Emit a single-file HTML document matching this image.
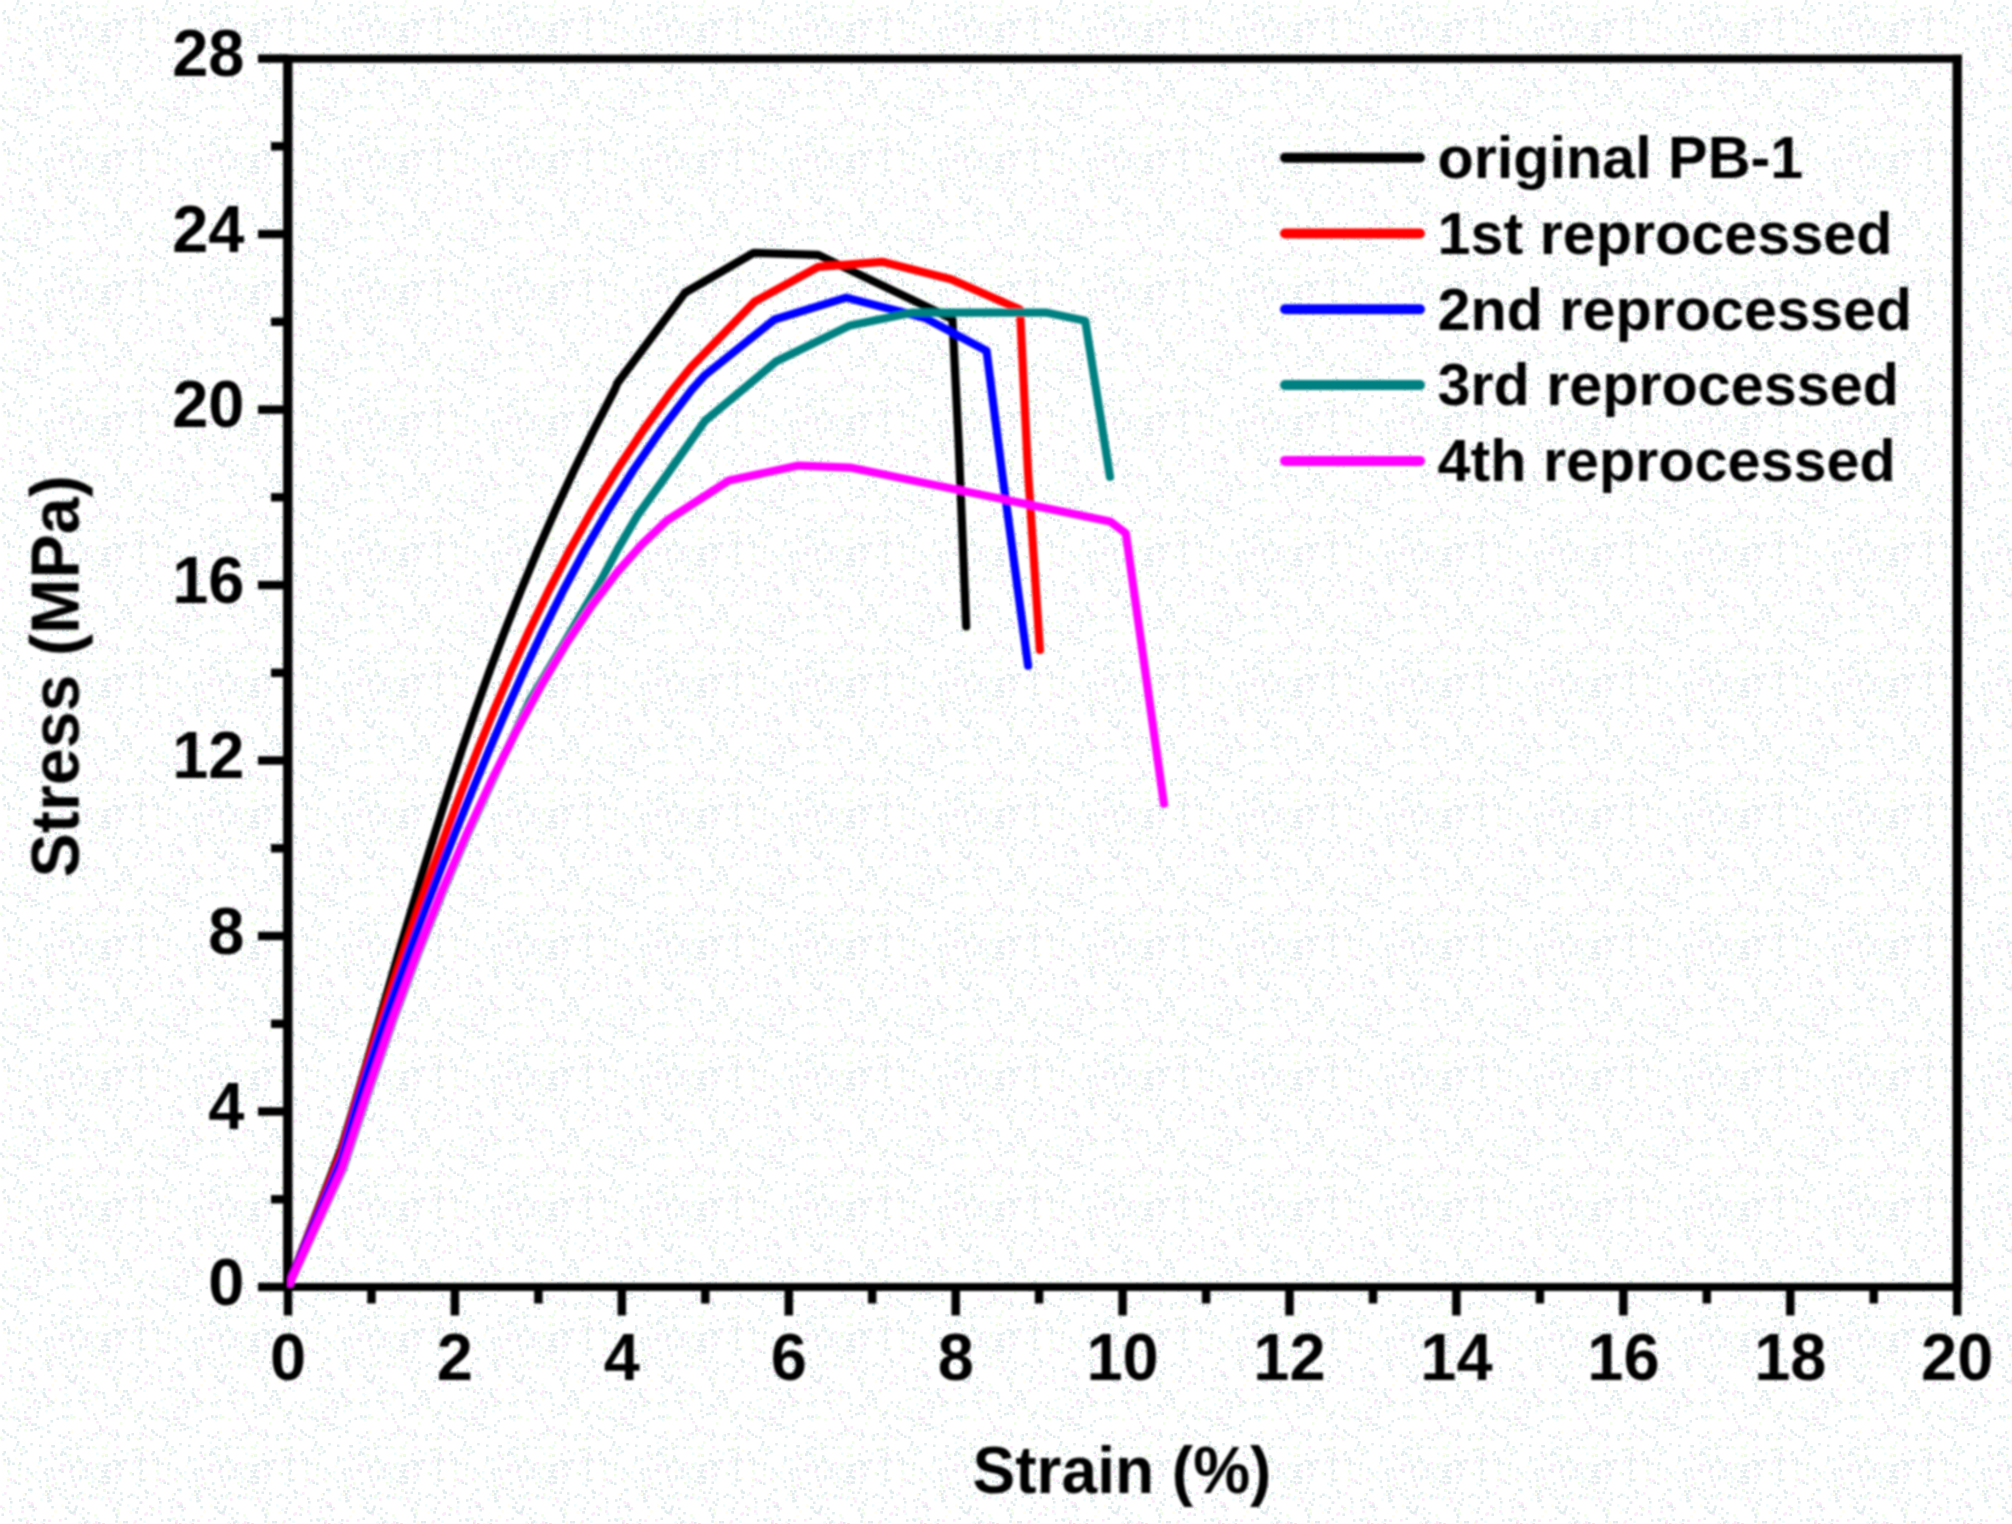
<!DOCTYPE html>
<html lang="en">
<head>
<meta charset="utf-8">
<title>Stress-strain curves of reprocessed PB-1</title>
<style>
html,body{margin:0;padding:0;background:#ffffff;}
body{width:2012px;height:1524px;overflow:hidden;}
svg{display:block;}
text{font-family:"Liberation Sans",Arial,Helvetica,sans-serif;font-weight:bold;fill:#000;}
.tick{font-size:65px;}
.leg{font-size:59.3px;}
.lab{font-size:65.5px;}
</style>
</head>
<body>
<svg width="2012" height="1524" viewBox="0 0 2012 1524">
<rect x="0" y="0" width="2012" height="1524" fill="#ffffff"/>

<defs><pattern id="speckle" width="149" height="131" patternUnits="userSpaceOnUse"><rect x="115.50" y="119.25" width="2.5" height="2.5" fill="#fde8f9"/><rect x="48.00" y="121.50" width="2.5" height="2.5" fill="#f0fde6"/><rect x="47.00" y="114.25" width="2.5" height="2.5" fill="#dfebec"/><rect x="23.50" y="10.50" width="2.5" height="2.5" fill="#eefbfb"/><rect x="115.50" y="40.50" width="2.5" height="2.5" fill="#dfebec"/><rect x="135.00" y="15.00" width="2.5" height="2.5" fill="#dfebec"/><rect x="61.50" y="7.25" width="2.5" height="2.5" fill="#eefbfb"/><rect x="112.50" y="50.50" width="2.5" height="2.5" fill="#dfebec"/><rect x="75.25" y="1.50" width="2.5" height="2.5" fill="#dfebec"/><rect x="117.50" y="71.25" width="2.5" height="2.5" fill="#f0fde6"/><rect x="21.50" y="65.25" width="2.5" height="2.5" fill="#dfebec"/><rect x="131.25" y="7.00" width="2.5" height="2.5" fill="#f0fde6"/><rect x="27.25" y="27.25" width="2.5" height="2.5" fill="#eefbfb"/><rect x="17.00" y="0.00" width="2.5" height="2.5" fill="#dfebec"/><rect x="13.25" y="96.50" width="2.5" height="2.5" fill="#eefbfb"/><rect x="107.00" y="50.50" width="2.5" height="2.5" fill="#dfebec"/><rect x="86.00" y="79.25" width="2.5" height="2.5" fill="#dfebec"/><rect x="104.00" y="34.00" width="2.5" height="2.5" fill="#dfebec"/><rect x="2.00" y="119.25" width="2.5" height="2.5" fill="#dfebec"/><rect x="143.00" y="114.50" width="2.5" height="2.5" fill="#dfebec"/><rect x="33.25" y="98.00" width="2.5" height="2.5" fill="#eefbfb"/><rect x="107.00" y="0.25" width="2.5" height="2.5" fill="#f0fde6"/><rect x="77.00" y="53.00" width="2.5" height="2.5" fill="#eefbfb"/><rect x="25.00" y="37.00" width="2.5" height="2.5" fill="#fde8f9"/><rect x="66.00" y="84.25" width="2.5" height="2.5" fill="#eefbfb"/><rect x="18.00" y="23.00" width="2.5" height="2.5" fill="#f0fde6"/><rect x="62.00" y="94.25" width="2.5" height="2.5" fill="#f0fde6"/><rect x="116.00" y="123.50" width="2.5" height="2.5" fill="#dfebec"/><rect x="98.00" y="39.25" width="2.5" height="2.5" fill="#dfebec"/><rect x="63.50" y="48.00" width="2.5" height="2.5" fill="#fffdee"/><rect x="141.00" y="99.25" width="2.5" height="2.5" fill="#f0fde6"/><rect x="20.25" y="12.00" width="2.5" height="2.5" fill="#dfebec"/><rect x="9.50" y="65.00" width="2.5" height="2.5" fill="#eefbfb"/><rect x="65.25" y="125.25" width="2.5" height="2.5" fill="#fde8f9"/><rect x="44.50" y="17.00" width="2.5" height="2.5" fill="#dfebec"/><rect x="122.50" y="18.25" width="2.5" height="2.5" fill="#dfebec"/><rect x="52.50" y="4.00" width="2.5" height="2.5" fill="#dfebec"/><rect x="105.25" y="63.00" width="2.5" height="2.5" fill="#dfebec"/><rect x="45.25" y="94.50" width="2.5" height="2.5" fill="#f0fde6"/><rect x="33.00" y="92.00" width="2.5" height="2.5" fill="#fde8f9"/><rect x="84.50" y="35.50" width="2.5" height="2.5" fill="#dfebec"/><rect x="4.25" y="91.50" width="2.5" height="2.5" fill="#dfebec"/><rect x="8.00" y="19.25" width="2.5" height="2.5" fill="#dfebec"/><rect x="79.25" y="34.00" width="2.5" height="2.5" fill="#dfebec"/><rect x="115.50" y="94.50" width="2.5" height="2.5" fill="#dfebec"/><rect x="33.25" y="90.00" width="2.5" height="2.5" fill="#fde8f9"/><rect x="19.25" y="7.25" width="2.5" height="2.5" fill="#f0fde6"/><rect x="3.50" y="97.25" width="2.5" height="2.5" fill="#f0fde6"/><rect x="3.50" y="18.00" width="2.5" height="2.5" fill="#dfebec"/><rect x="29.25" y="106.50" width="2.5" height="2.5" fill="#eefbfb"/><rect x="99.50" y="117.25" width="2.5" height="2.5" fill="#fde8f9"/><rect x="138.00" y="7.25" width="2.5" height="2.5" fill="#f0fde6"/><rect x="22.25" y="5.00" width="2.5" height="2.5" fill="#dfebec"/><rect x="127.50" y="124.25" width="2.5" height="2.5" fill="#dfebec"/><rect x="94.25" y="36.50" width="2.5" height="2.5" fill="#f0fde6"/><rect x="51.50" y="43.25" width="2.5" height="2.5" fill="#fde8f9"/><rect x="127.00" y="83.25" width="2.5" height="2.5" fill="#dfebec"/><rect x="50.50" y="110.00" width="2.5" height="2.5" fill="#dfebec"/><rect x="98.00" y="81.00" width="2.5" height="2.5" fill="#dfebec"/><rect x="34.25" y="89.00" width="2.5" height="2.5" fill="#dfebec"/><rect x="70.00" y="28.25" width="2.5" height="2.5" fill="#fde8f9"/><rect x="70.00" y="105.25" width="2.5" height="2.5" fill="#fffdee"/><rect x="133.25" y="80.50" width="2.5" height="2.5" fill="#f0fde6"/><rect x="115.25" y="19.00" width="2.5" height="2.5" fill="#dfebec"/><rect x="10.50" y="71.50" width="2.5" height="2.5" fill="#eefbfb"/><rect x="79.50" y="4.50" width="2.5" height="2.5" fill="#dfebec"/><rect x="103.25" y="48.00" width="2.5" height="2.5" fill="#dfebec"/><rect x="60.00" y="12.50" width="2.5" height="2.5" fill="#dfebec"/><rect x="114.00" y="94.00" width="2.5" height="2.5" fill="#dfebec"/><rect x="51.25" y="65.00" width="2.5" height="2.5" fill="#dfebec"/><rect x="120.50" y="9.00" width="2.5" height="2.5" fill="#dfebec"/><rect x="69.25" y="128.50" width="2.5" height="2.5" fill="#dfebec"/><rect x="100.50" y="57.00" width="2.5" height="2.5" fill="#eefbfb"/><rect x="99.00" y="115.25" width="2.5" height="2.5" fill="#dfebec"/><rect x="1.25" y="128.25" width="2.5" height="2.5" fill="#fde8f9"/><rect x="83.50" y="52.00" width="2.5" height="2.5" fill="#fffdee"/><rect x="31.00" y="62.25" width="2.5" height="2.5" fill="#dfebec"/><rect x="79.50" y="82.25" width="2.5" height="2.5" fill="#dfebec"/><rect x="89.50" y="21.00" width="2.5" height="2.5" fill="#fde8f9"/><rect x="87.50" y="107.25" width="2.5" height="2.5" fill="#fde8f9"/><rect x="7.00" y="16.25" width="2.5" height="2.5" fill="#dfebec"/><rect x="44.50" y="85.50" width="2.5" height="2.5" fill="#dfebec"/><rect x="120.00" y="112.25" width="2.5" height="2.5" fill="#f0fde6"/><rect x="22.00" y="112.50" width="2.5" height="2.5" fill="#f0fde6"/><rect x="74.50" y="42.50" width="2.5" height="2.5" fill="#fde8f9"/><rect x="143.25" y="79.50" width="2.5" height="2.5" fill="#eefbfb"/><rect x="53.25" y="36.50" width="2.5" height="2.5" fill="#fde8f9"/><rect x="69.50" y="127.00" width="2.5" height="2.5" fill="#eefbfb"/><rect x="137.00" y="128.00" width="2.5" height="2.5" fill="#f0fde6"/><rect x="96.00" y="11.50" width="2.5" height="2.5" fill="#eefbfb"/><rect x="139.50" y="31.25" width="2.5" height="2.5" fill="#dfebec"/><rect x="42.00" y="117.25" width="2.5" height="2.5" fill="#eefbfb"/><rect x="68.00" y="121.25" width="2.5" height="2.5" fill="#dfebec"/><rect x="86.25" y="121.50" width="2.5" height="2.5" fill="#eefbfb"/><rect x="27.00" y="107.50" width="2.5" height="2.5" fill="#dfebec"/><rect x="66.00" y="5.00" width="2.5" height="2.5" fill="#dfebec"/><rect x="39.00" y="3.50" width="2.5" height="2.5" fill="#dfebec"/><rect x="82.50" y="90.00" width="2.5" height="2.5" fill="#f0fde6"/><rect x="127.00" y="127.50" width="2.5" height="2.5" fill="#f0fde6"/><rect x="31.50" y="64.50" width="2.5" height="2.5" fill="#dfebec"/><rect x="135.25" y="5.25" width="2.5" height="2.5" fill="#fffdee"/><rect x="105.50" y="40.50" width="2.5" height="2.5" fill="#dfebec"/><rect x="136.50" y="55.50" width="2.5" height="2.5" fill="#dfebec"/><rect x="138.50" y="34.00" width="2.5" height="2.5" fill="#fffdee"/><rect x="88.00" y="80.50" width="2.5" height="2.5" fill="#eefbfb"/><rect x="49.00" y="49.00" width="2.5" height="2.5" fill="#dfebec"/><rect x="61.00" y="22.25" width="2.5" height="2.5" fill="#eefbfb"/><rect x="24.25" y="107.50" width="2.5" height="2.5" fill="#dfebec"/><rect x="51.25" y="4.00" width="2.5" height="2.5" fill="#dfebec"/><rect x="145.50" y="91.25" width="2.5" height="2.5" fill="#dfebec"/><rect x="129.50" y="87.50" width="2.5" height="2.5" fill="#dfebec"/><rect x="18.25" y="27.00" width="2.5" height="2.5" fill="#dfebec"/><rect x="141.50" y="123.00" width="2.5" height="2.5" fill="#dfebec"/><rect x="47.00" y="52.00" width="2.5" height="2.5" fill="#dfebec"/><rect x="72.50" y="24.50" width="2.5" height="2.5" fill="#dfebec"/><rect x="34.50" y="118.00" width="2.5" height="2.5" fill="#dfebec"/><rect x="83.25" y="119.25" width="2.5" height="2.5" fill="#fde8f9"/><rect x="90.25" y="53.50" width="2.5" height="2.5" fill="#eefbfb"/><rect x="3.50" y="10.00" width="2.5" height="2.5" fill="#dfebec"/><rect x="104.25" y="92.50" width="2.5" height="2.5" fill="#eefbfb"/><rect x="103.00" y="42.00" width="2.5" height="2.5" fill="#fde8f9"/><rect x="3.25" y="21.50" width="2.5" height="2.5" fill="#fffdee"/><rect x="103.50" y="48.50" width="2.5" height="2.5" fill="#f0fde6"/><rect x="87.25" y="71.00" width="2.5" height="2.5" fill="#dfebec"/><rect x="103.00" y="84.50" width="2.5" height="2.5" fill="#eefbfb"/><rect x="110.00" y="103.00" width="2.5" height="2.5" fill="#dfebec"/><rect x="18.25" y="77.25" width="2.5" height="2.5" fill="#dfebec"/><rect x="2.25" y="12.00" width="2.5" height="2.5" fill="#dfebec"/><rect x="76.25" y="55.50" width="2.5" height="2.5" fill="#eefbfb"/><rect x="145.00" y="19.25" width="2.5" height="2.5" fill="#fde8f9"/><rect x="127.50" y="54.50" width="2.5" height="2.5" fill="#dfebec"/><rect x="101.50" y="5.00" width="2.5" height="2.5" fill="#f0fde6"/><rect x="27.50" y="60.25" width="2.5" height="2.5" fill="#fde8f9"/><rect x="102.50" y="12.00" width="2.5" height="2.5" fill="#fffdee"/><rect x="96.00" y="25.25" width="2.5" height="2.5" fill="#dfebec"/><rect x="70.25" y="106.50" width="2.5" height="2.5" fill="#f0fde6"/><rect x="25.50" y="113.50" width="2.5" height="2.5" fill="#dfebec"/><rect x="140.50" y="11.25" width="2.5" height="2.5" fill="#dfebec"/><rect x="98.25" y="43.25" width="2.5" height="2.5" fill="#f0fde6"/><rect x="14.25" y="126.25" width="2.5" height="2.5" fill="#dfebec"/><rect x="134.25" y="79.25" width="2.5" height="2.5" fill="#fde8f9"/><rect x="73.25" y="69.50" width="2.5" height="2.5" fill="#dfebec"/><rect x="75.00" y="3.00" width="2.5" height="2.5" fill="#f0fde6"/><rect x="10.50" y="40.25" width="2.5" height="2.5" fill="#eefbfb"/><rect x="13.25" y="101.00" width="2.5" height="2.5" fill="#f0fde6"/><rect x="81.00" y="57.25" width="2.5" height="2.5" fill="#fde8f9"/><rect x="64.00" y="11.50" width="2.5" height="2.5" fill="#dfebec"/><rect x="119.00" y="62.50" width="2.5" height="2.5" fill="#dfebec"/><rect x="12.50" y="106.25" width="2.5" height="2.5" fill="#dfebec"/><rect x="52.00" y="91.50" width="2.5" height="2.5" fill="#dfebec"/><rect x="31.25" y="113.00" width="2.5" height="2.5" fill="#eefbfb"/><rect x="116.50" y="67.50" width="2.5" height="2.5" fill="#f0fde6"/><rect x="107.25" y="35.25" width="2.5" height="2.5" fill="#dfebec"/><rect x="61.25" y="29.50" width="2.5" height="2.5" fill="#dfebec"/><rect x="129.50" y="91.25" width="2.5" height="2.5" fill="#dfebec"/><rect x="144.50" y="48.50" width="2.5" height="2.5" fill="#dfebec"/><rect x="61.00" y="63.50" width="2.5" height="2.5" fill="#fffdee"/><rect x="50.50" y="10.50" width="2.5" height="2.5" fill="#dfebec"/><rect x="2.25" y="66.25" width="2.5" height="2.5" fill="#dfebec"/><rect x="9.00" y="56.50" width="2.5" height="2.5" fill="#dfebec"/><rect x="18.00" y="41.50" width="2.5" height="2.5" fill="#dfebec"/><rect x="95.25" y="122.25" width="2.5" height="2.5" fill="#dfebec"/><rect x="86.25" y="126.50" width="2.5" height="2.5" fill="#dfebec"/><rect x="19.00" y="114.50" width="2.5" height="2.5" fill="#dfebec"/><rect x="113.25" y="66.25" width="2.5" height="2.5" fill="#dfebec"/><rect x="94.00" y="83.25" width="2.5" height="2.5" fill="#f0fde6"/><rect x="47.25" y="94.50" width="2.5" height="2.5" fill="#dfebec"/><rect x="118.25" y="20.50" width="2.5" height="2.5" fill="#dfebec"/><rect x="110.50" y="124.50" width="2.5" height="2.5" fill="#fde8f9"/><rect x="76.00" y="19.25" width="2.5" height="2.5" fill="#dfebec"/><rect x="20.50" y="77.25" width="2.5" height="2.5" fill="#eefbfb"/><rect x="72.00" y="56.25" width="2.5" height="2.5" fill="#eefbfb"/><rect x="93.00" y="82.50" width="2.5" height="2.5" fill="#fde8f9"/><rect x="145.50" y="71.25" width="2.5" height="2.5" fill="#fde8f9"/><rect x="78.25" y="81.00" width="2.5" height="2.5" fill="#eefbfb"/><rect x="132.00" y="21.25" width="2.5" height="2.5" fill="#eefbfb"/><rect x="6.25" y="101.50" width="2.5" height="2.5" fill="#eefbfb"/><rect x="49.50" y="94.25" width="2.5" height="2.5" fill="#f0fde6"/><rect x="39.50" y="45.00" width="2.5" height="2.5" fill="#dfebec"/><rect x="116.25" y="5.00" width="2.5" height="2.5" fill="#fde8f9"/><rect x="14.50" y="40.50" width="2.5" height="2.5" fill="#dfebec"/><rect x="5.50" y="108.00" width="2.5" height="2.5" fill="#f0fde6"/><rect x="139.25" y="21.25" width="2.5" height="2.5" fill="#dfebec"/><rect x="70.50" y="26.25" width="2.5" height="2.5" fill="#dfebec"/><rect x="6.50" y="36.00" width="2.5" height="2.5" fill="#fffdee"/><rect x="108.00" y="56.25" width="2.5" height="2.5" fill="#fde8f9"/><rect x="86.25" y="100.25" width="2.5" height="2.5" fill="#eefbfb"/><rect x="85.50" y="34.25" width="2.5" height="2.5" fill="#fde8f9"/><rect x="137.50" y="18.50" width="2.5" height="2.5" fill="#f0fde6"/><rect x="11.25" y="89.00" width="2.5" height="2.5" fill="#eefbfb"/><rect x="22.25" y="6.50" width="2.5" height="2.5" fill="#eefbfb"/><rect x="2.00" y="107.25" width="2.5" height="2.5" fill="#dfebec"/><rect x="62.50" y="41.50" width="2.5" height="2.5" fill="#eefbfb"/><rect x="42.25" y="52.25" width="2.5" height="2.5" fill="#eefbfb"/><rect x="135.25" y="70.00" width="2.5" height="2.5" fill="#fde8f9"/><rect x="78.50" y="29.25" width="2.5" height="2.5" fill="#fffdee"/><rect x="39.00" y="15.25" width="2.5" height="2.5" fill="#dfebec"/><rect x="123.00" y="80.00" width="2.5" height="2.5" fill="#dfebec"/><rect x="47.25" y="55.50" width="2.5" height="2.5" fill="#dfebec"/><rect x="120.50" y="57.25" width="2.5" height="2.5" fill="#dfebec"/><rect x="71.25" y="44.25" width="2.5" height="2.5" fill="#fffdee"/><rect x="140.50" y="122.25" width="2.5" height="2.5" fill="#fde8f9"/><rect x="103.25" y="23.25" width="2.5" height="2.5" fill="#dfebec"/><rect x="102.00" y="55.00" width="2.5" height="2.5" fill="#eefbfb"/><rect x="135.50" y="70.00" width="2.5" height="2.5" fill="#dfebec"/><rect x="2.25" y="95.25" width="2.5" height="2.5" fill="#dfebec"/><rect x="107.50" y="40.25" width="2.5" height="2.5" fill="#dfebec"/><rect x="82.00" y="66.50" width="2.5" height="2.5" fill="#dfebec"/><rect x="68.50" y="13.00" width="2.5" height="2.5" fill="#f0fde6"/><rect x="45.00" y="52.00" width="2.5" height="2.5" fill="#dfebec"/><rect x="21.25" y="69.50" width="2.5" height="2.5" fill="#fde8f9"/><rect x="24.25" y="119.00" width="2.5" height="2.5" fill="#f0fde6"/><rect x="139.50" y="77.00" width="2.5" height="2.5" fill="#dfebec"/><rect x="106.00" y="23.25" width="2.5" height="2.5" fill="#dfebec"/><rect x="9.50" y="105.50" width="2.5" height="2.5" fill="#fde8f9"/><rect x="40.25" y="80.25" width="2.5" height="2.5" fill="#eefbfb"/><rect x="19.50" y="78.25" width="2.5" height="2.5" fill="#dfebec"/><rect x="92.00" y="35.00" width="2.5" height="2.5" fill="#eefbfb"/><rect x="118.50" y="31.50" width="2.5" height="2.5" fill="#fde8f9"/><rect x="3.25" y="121.00" width="2.5" height="2.5" fill="#dfebec"/><rect x="144.00" y="117.00" width="2.5" height="2.5" fill="#dfebec"/><rect x="38.25" y="96.50" width="2.5" height="2.5" fill="#dfebec"/><rect x="86.25" y="22.25" width="2.5" height="2.5" fill="#dfebec"/><rect x="51.25" y="28.25" width="2.5" height="2.5" fill="#dfebec"/><rect x="70.50" y="120.50" width="2.5" height="2.5" fill="#fffdee"/><rect x="84.25" y="97.00" width="2.5" height="2.5" fill="#dfebec"/><rect x="36.50" y="24.00" width="2.5" height="2.5" fill="#fffdee"/><rect x="45.00" y="49.25" width="2.5" height="2.5" fill="#dfebec"/><rect x="118.50" y="23.00" width="2.5" height="2.5" fill="#dfebec"/><rect x="8.00" y="31.25" width="2.5" height="2.5" fill="#eefbfb"/><rect x="18.25" y="109.50" width="2.5" height="2.5" fill="#dfebec"/><rect x="52.00" y="98.25" width="2.5" height="2.5" fill="#eefbfb"/><rect x="105.50" y="3.50" width="2.5" height="2.5" fill="#eefbfb"/><rect x="81.00" y="4.25" width="2.5" height="2.5" fill="#eefbfb"/><rect x="48.25" y="78.50" width="2.5" height="2.5" fill="#fde8f9"/><rect x="27.50" y="96.00" width="2.5" height="2.5" fill="#fde8f9"/><rect x="85.25" y="26.50" width="2.5" height="2.5" fill="#dfebec"/><rect x="64.50" y="76.50" width="2.5" height="2.5" fill="#dfebec"/><rect x="90.50" y="128.50" width="2.5" height="2.5" fill="#dfebec"/><rect x="146.50" y="50.50" width="2.5" height="2.5" fill="#dfebec"/><rect x="145.00" y="50.00" width="2.5" height="2.5" fill="#dfebec"/><rect x="62.25" y="106.50" width="2.5" height="2.5" fill="#eefbfb"/><rect x="84.00" y="92.25" width="2.5" height="2.5" fill="#fde8f9"/><rect x="31.25" y="34.00" width="2.5" height="2.5" fill="#f0fde6"/><rect x="139.50" y="16.50" width="2.5" height="2.5" fill="#dfebec"/><rect x="43.50" y="85.50" width="2.5" height="2.5" fill="#dfebec"/><rect x="31.00" y="73.50" width="2.5" height="2.5" fill="#eefbfb"/><rect x="61.50" y="92.00" width="2.5" height="2.5" fill="#dfebec"/><rect x="140.00" y="116.00" width="2.5" height="2.5" fill="#eefbfb"/><rect x="46.50" y="35.25" width="2.5" height="2.5" fill="#eefbfb"/><rect x="4.00" y="51.25" width="2.5" height="2.5" fill="#fde8f9"/><rect x="8.00" y="98.00" width="2.5" height="2.5" fill="#f0fde6"/><rect x="103.00" y="86.50" width="2.5" height="2.5" fill="#dfebec"/><rect x="67.00" y="85.00" width="2.5" height="2.5" fill="#fffdee"/><rect x="9.50" y="37.25" width="2.5" height="2.5" fill="#fde8f9"/><rect x="26.25" y="88.25" width="2.5" height="2.5" fill="#f0fde6"/><rect x="144.25" y="72.25" width="2.5" height="2.5" fill="#fde8f9"/><rect x="104.25" y="30.50" width="2.5" height="2.5" fill="#dfebec"/><rect x="134.25" y="110.25" width="2.5" height="2.5" fill="#dfebec"/><rect x="82.00" y="75.50" width="2.5" height="2.5" fill="#f0fde6"/><rect x="110.50" y="96.50" width="2.5" height="2.5" fill="#eefbfb"/><rect x="78.50" y="17.00" width="2.5" height="2.5" fill="#dfebec"/><rect x="114.00" y="128.25" width="2.5" height="2.5" fill="#dfebec"/><rect x="121.50" y="26.50" width="2.5" height="2.5" fill="#dfebec"/><rect x="139.25" y="101.00" width="2.5" height="2.5" fill="#dfebec"/><rect x="94.50" y="107.50" width="2.5" height="2.5" fill="#dfebec"/><rect x="56.50" y="107.50" width="2.5" height="2.5" fill="#dfebec"/><rect x="18.00" y="33.00" width="2.5" height="2.5" fill="#f0fde6"/><rect x="116.00" y="75.00" width="2.5" height="2.5" fill="#dfebec"/><rect x="6.25" y="44.00" width="2.5" height="2.5" fill="#fde8f9"/><rect x="115.50" y="101.00" width="2.5" height="2.5" fill="#eefbfb"/><rect x="59.00" y="78.00" width="2.5" height="2.5" fill="#fde8f9"/><rect x="80.25" y="83.25" width="2.5" height="2.5" fill="#dfebec"/><rect x="120.00" y="51.25" width="2.5" height="2.5" fill="#dfebec"/><rect x="50.25" y="90.25" width="2.5" height="2.5" fill="#dfebec"/><rect x="44.50" y="51.50" width="2.5" height="2.5" fill="#fffdee"/><rect x="60.00" y="12.50" width="2.5" height="2.5" fill="#dfebec"/><rect x="78.50" y="80.25" width="2.5" height="2.5" fill="#eefbfb"/><rect x="34.25" y="113.25" width="2.5" height="2.5" fill="#dfebec"/><rect x="43.00" y="78.00" width="2.5" height="2.5" fill="#dfebec"/><rect x="68.00" y="60.50" width="2.5" height="2.5" fill="#dfebec"/><rect x="69.25" y="29.50" width="2.5" height="2.5" fill="#fde8f9"/><rect x="58.25" y="46.50" width="2.5" height="2.5" fill="#dfebec"/><rect x="70.00" y="23.25" width="2.5" height="2.5" fill="#dfebec"/><rect x="112.50" y="18.50" width="2.5" height="2.5" fill="#dfebec"/><rect x="1.50" y="72.50" width="2.5" height="2.5" fill="#dfebec"/><rect x="108.50" y="22.00" width="2.5" height="2.5" fill="#dfebec"/><rect x="48.00" y="45.25" width="2.5" height="2.5" fill="#f0fde6"/><rect x="7.00" y="38.00" width="2.5" height="2.5" fill="#f0fde6"/><rect x="118.50" y="98.00" width="2.5" height="2.5" fill="#fde8f9"/><rect x="15.00" y="16.50" width="2.5" height="2.5" fill="#fffdee"/><rect x="92.25" y="123.00" width="2.5" height="2.5" fill="#fde8f9"/><rect x="74.50" y="44.50" width="2.5" height="2.5" fill="#dfebec"/><rect x="28.50" y="111.00" width="2.5" height="2.5" fill="#fde8f9"/><rect x="140.25" y="60.25" width="2.5" height="2.5" fill="#fde8f9"/><rect x="139.00" y="127.25" width="2.5" height="2.5" fill="#dfebec"/><rect x="51.50" y="13.50" width="2.5" height="2.5" fill="#fde8f9"/><rect x="46.25" y="38.50" width="2.5" height="2.5" fill="#dfebec"/><rect x="127.25" y="128.25" width="2.5" height="2.5" fill="#dfebec"/><rect x="7.00" y="29.00" width="2.5" height="2.5" fill="#f0fde6"/><rect x="139.50" y="60.50" width="2.5" height="2.5" fill="#dfebec"/><rect x="13.25" y="108.00" width="2.5" height="2.5" fill="#eefbfb"/><rect x="134.25" y="127.00" width="2.5" height="2.5" fill="#fffdee"/><rect x="130.00" y="96.25" width="2.5" height="2.5" fill="#dfebec"/><rect x="40.25" y="116.00" width="2.5" height="2.5" fill="#eefbfb"/><rect x="105.25" y="93.50" width="2.5" height="2.5" fill="#dfebec"/><rect x="10.00" y="125.50" width="2.5" height="2.5" fill="#dfebec"/><rect x="37.50" y="116.50" width="2.5" height="2.5" fill="#dfebec"/><rect x="0.00" y="104.50" width="2.5" height="2.5" fill="#dfebec"/><rect x="23.25" y="76.25" width="2.5" height="2.5" fill="#eefbfb"/><rect x="19.00" y="58.25" width="2.5" height="2.5" fill="#dfebec"/><rect x="30.50" y="61.25" width="2.5" height="2.5" fill="#fde8f9"/><rect x="22.00" y="93.25" width="2.5" height="2.5" fill="#eefbfb"/><rect x="55.00" y="41.25" width="2.5" height="2.5" fill="#f0fde6"/><rect x="14.50" y="87.50" width="2.5" height="2.5" fill="#f0fde6"/><rect x="45.25" y="100.00" width="2.5" height="2.5" fill="#eefbfb"/><rect x="96.00" y="55.25" width="2.5" height="2.5" fill="#eefbfb"/><rect x="63.00" y="41.25" width="2.5" height="2.5" fill="#dfebec"/><rect x="102.00" y="119.25" width="2.5" height="2.5" fill="#fde8f9"/><rect x="114.25" y="46.25" width="2.5" height="2.5" fill="#dfebec"/><rect x="138.25" y="107.00" width="2.5" height="2.5" fill="#dfebec"/><rect x="70.25" y="70.50" width="2.5" height="2.5" fill="#dfebec"/><rect x="132.00" y="67.50" width="2.5" height="2.5" fill="#eefbfb"/><rect x="145.50" y="55.25" width="2.5" height="2.5" fill="#dfebec"/><rect x="92.00" y="39.50" width="2.5" height="2.5" fill="#eefbfb"/><rect x="35.00" y="30.00" width="2.5" height="2.5" fill="#eefbfb"/><rect x="98.25" y="21.25" width="2.5" height="2.5" fill="#eefbfb"/><rect x="65.50" y="14.25" width="2.5" height="2.5" fill="#eefbfb"/><rect x="61.25" y="10.00" width="2.5" height="2.5" fill="#dfebec"/><rect x="131.50" y="32.00" width="2.5" height="2.5" fill="#dfebec"/><rect x="79.25" y="108.25" width="2.5" height="2.5" fill="#f0fde6"/><rect x="34.50" y="66.25" width="2.5" height="2.5" fill="#fde8f9"/><rect x="96.00" y="52.25" width="2.5" height="2.5" fill="#f0fde6"/><rect x="115.25" y="34.25" width="2.5" height="2.5" fill="#fde8f9"/><rect x="91.00" y="26.25" width="2.5" height="2.5" fill="#eefbfb"/><rect x="88.50" y="55.00" width="2.5" height="2.5" fill="#dfebec"/><rect x="6.50" y="123.50" width="2.5" height="2.5" fill="#dfebec"/><rect x="76.50" y="17.00" width="2.5" height="2.5" fill="#f0fde6"/><rect x="90.50" y="31.25" width="2.5" height="2.5" fill="#dfebec"/><rect x="66.00" y="109.00" width="2.5" height="2.5" fill="#eefbfb"/><rect x="126.00" y="125.25" width="2.5" height="2.5" fill="#eefbfb"/><rect x="72.25" y="71.00" width="2.5" height="2.5" fill="#dfebec"/><rect x="103.00" y="121.00" width="2.5" height="2.5" fill="#eefbfb"/><rect x="61.50" y="23.50" width="2.5" height="2.5" fill="#eefbfb"/><rect x="108.00" y="122.50" width="2.5" height="2.5" fill="#dfebec"/><rect x="141.25" y="5.25" width="2.5" height="2.5" fill="#dfebec"/><rect x="93.00" y="103.25" width="2.5" height="2.5" fill="#dfebec"/><rect x="96.25" y="76.25" width="2.5" height="2.5" fill="#eefbfb"/><rect x="64.00" y="6.00" width="2.5" height="2.5" fill="#eefbfb"/><rect x="82.25" y="76.25" width="2.5" height="2.5" fill="#dfebec"/><rect x="120.25" y="87.25" width="2.5" height="2.5" fill="#dfebec"/><rect x="55.00" y="12.50" width="2.5" height="2.5" fill="#f0fde6"/><rect x="105.50" y="106.00" width="2.5" height="2.5" fill="#dfebec"/><rect x="17.25" y="115.25" width="2.5" height="2.5" fill="#eefbfb"/><rect x="9.00" y="69.25" width="2.5" height="2.5" fill="#fde8f9"/><rect x="92.25" y="5.00" width="2.5" height="2.5" fill="#f0fde6"/><rect x="49.25" y="58.25" width="2.5" height="2.5" fill="#dfebec"/><rect x="60.50" y="0.50" width="2.5" height="2.5" fill="#eefbfb"/><rect x="0.00" y="126.50" width="2.5" height="2.5" fill="#f0fde6"/><rect x="20.50" y="85.25" width="2.5" height="2.5" fill="#eefbfb"/><rect x="26.00" y="80.50" width="2.5" height="2.5" fill="#dfebec"/><rect x="101.50" y="40.00" width="2.5" height="2.5" fill="#dfebec"/><rect x="40.25" y="125.50" width="2.5" height="2.5" fill="#dfebec"/><rect x="94.25" y="73.25" width="2.5" height="2.5" fill="#f0fde6"/><rect x="127.00" y="63.25" width="2.5" height="2.5" fill="#eefbfb"/><rect x="45.50" y="32.00" width="2.5" height="2.5" fill="#dfebec"/><rect x="26.50" y="79.00" width="2.5" height="2.5" fill="#fde8f9"/><rect x="131.50" y="123.00" width="2.5" height="2.5" fill="#dfebec"/><rect x="105.25" y="13.25" width="2.5" height="2.5" fill="#dfebec"/><rect x="101.50" y="100.25" width="2.5" height="2.5" fill="#fffdee"/><rect x="64.25" y="83.00" width="2.5" height="2.5" fill="#eefbfb"/><rect x="52.50" y="33.50" width="2.5" height="2.5" fill="#eefbfb"/><rect x="32.50" y="68.00" width="2.5" height="2.5" fill="#dfebec"/><rect x="51.25" y="74.00" width="2.5" height="2.5" fill="#fffdee"/><rect x="47.00" y="120.50" width="2.5" height="2.5" fill="#dfebec"/><rect x="68.50" y="69.25" width="2.5" height="2.5" fill="#dfebec"/><rect x="101.25" y="35.00" width="2.5" height="2.5" fill="#dfebec"/><rect x="30.00" y="49.25" width="2.5" height="2.5" fill="#eefbfb"/><rect x="137.00" y="103.25" width="2.5" height="2.5" fill="#dfebec"/><rect x="138.25" y="43.25" width="2.5" height="2.5" fill="#dfebec"/><rect x="79.25" y="72.00" width="2.5" height="2.5" fill="#eefbfb"/><rect x="104.00" y="99.50" width="2.5" height="2.5" fill="#dfebec"/><rect x="139.25" y="37.25" width="2.5" height="2.5" fill="#dfebec"/><rect x="27.50" y="64.25" width="2.5" height="2.5" fill="#eefbfb"/><rect x="30.00" y="82.00" width="2.5" height="2.5" fill="#dfebec"/><rect x="144.50" y="36.25" width="2.5" height="2.5" fill="#fffdee"/><rect x="102.25" y="82.00" width="2.5" height="2.5" fill="#dfebec"/><rect x="123.00" y="93.50" width="2.5" height="2.5" fill="#dfebec"/><rect x="143.00" y="38.00" width="2.5" height="2.5" fill="#dfebec"/><rect x="79.50" y="20.00" width="2.5" height="2.5" fill="#dfebec"/><rect x="86.25" y="35.00" width="2.5" height="2.5" fill="#eefbfb"/><rect x="123.00" y="106.25" width="2.5" height="2.5" fill="#f0fde6"/><rect x="101.50" y="14.00" width="2.5" height="2.5" fill="#f0fde6"/><rect x="64.25" y="48.25" width="2.5" height="2.5" fill="#dfebec"/><rect x="113.50" y="12.00" width="2.5" height="2.5" fill="#dfebec"/><rect x="43.50" y="30.50" width="2.5" height="2.5" fill="#dfebec"/><rect x="69.25" y="6.50" width="2.5" height="2.5" fill="#dfebec"/><rect x="16.50" y="119.00" width="2.5" height="2.5" fill="#dfebec"/><rect x="16.25" y="2.50" width="2.5" height="2.5" fill="#dfebec"/><rect x="62.50" y="126.25" width="2.5" height="2.5" fill="#dfebec"/><rect x="136.50" y="25.25" width="2.5" height="2.5" fill="#eefbfb"/><rect x="104.25" y="6.00" width="2.5" height="2.5" fill="#f0fde6"/><rect x="36.00" y="82.25" width="2.5" height="2.5" fill="#eefbfb"/><rect x="129.50" y="70.25" width="2.5" height="2.5" fill="#fffdee"/><rect x="115.25" y="79.25" width="2.5" height="2.5" fill="#dfebec"/><rect x="82.50" y="24.25" width="2.5" height="2.5" fill="#eefbfb"/><rect x="54.50" y="46.00" width="2.5" height="2.5" fill="#dfebec"/><rect x="33.50" y="77.50" width="2.5" height="2.5" fill="#dfebec"/><rect x="45.25" y="27.00" width="2.5" height="2.5" fill="#dfebec"/><rect x="95.25" y="46.25" width="2.5" height="2.5" fill="#dfebec"/><rect x="2.25" y="128.00" width="2.5" height="2.5" fill="#eefbfb"/><rect x="24.25" y="52.00" width="2.5" height="2.5" fill="#dfebec"/><rect x="82.00" y="27.50" width="2.5" height="2.5" fill="#eefbfb"/><rect x="110.25" y="56.25" width="2.5" height="2.5" fill="#eefbfb"/><rect x="45.25" y="17.50" width="2.5" height="2.5" fill="#eefbfb"/><rect x="82.00" y="91.50" width="2.5" height="2.5" fill="#dfebec"/><rect x="37.50" y="96.50" width="2.5" height="2.5" fill="#dfebec"/><rect x="54.50" y="88.25" width="2.5" height="2.5" fill="#fffdee"/><rect x="108.50" y="29.00" width="2.5" height="2.5" fill="#fde8f9"/><rect x="111.50" y="119.25" width="2.5" height="2.5" fill="#eefbfb"/><rect x="128.00" y="96.50" width="2.5" height="2.5" fill="#f0fde6"/><rect x="146.00" y="8.50" width="2.5" height="2.5" fill="#fffdee"/><rect x="115.25" y="72.50" width="2.5" height="2.5" fill="#dfebec"/><rect x="13.25" y="38.50" width="2.5" height="2.5" fill="#fde8f9"/><rect x="84.25" y="80.00" width="2.5" height="2.5" fill="#fde8f9"/><rect x="141.25" y="13.00" width="2.5" height="2.5" fill="#fde8f9"/><rect x="28.00" y="47.50" width="2.5" height="2.5" fill="#dfebec"/><rect x="29.00" y="64.25" width="2.5" height="2.5" fill="#dfebec"/><rect x="47.00" y="87.25" width="2.5" height="2.5" fill="#fde8f9"/><rect x="89.25" y="53.50" width="2.5" height="2.5" fill="#dfebec"/><rect x="109.00" y="125.25" width="2.5" height="2.5" fill="#fffdee"/><rect x="61.00" y="27.50" width="2.5" height="2.5" fill="#fde8f9"/><rect x="125.00" y="18.25" width="2.5" height="2.5" fill="#dfebec"/><rect x="140.00" y="38.25" width="2.5" height="2.5" fill="#dfebec"/><rect x="25.25" y="9.25" width="2.5" height="2.5" fill="#dfebec"/><rect x="73.00" y="106.00" width="2.5" height="2.5" fill="#f0fde6"/><rect x="99.00" y="119.25" width="2.5" height="2.5" fill="#dfebec"/><rect x="22.50" y="52.50" width="2.5" height="2.5" fill="#fffdee"/><rect x="80.50" y="50.50" width="2.5" height="2.5" fill="#eefbfb"/><rect x="96.00" y="86.50" width="2.5" height="2.5" fill="#eefbfb"/><rect x="71.50" y="53.50" width="2.5" height="2.5" fill="#dfebec"/><rect x="46.00" y="43.50" width="2.5" height="2.5" fill="#f0fde6"/><rect x="119.00" y="33.25" width="2.5" height="2.5" fill="#dfebec"/><rect x="66.25" y="91.25" width="2.5" height="2.5" fill="#dfebec"/><rect x="2.00" y="52.50" width="2.5" height="2.5" fill="#eefbfb"/><rect x="79.25" y="51.00" width="2.5" height="2.5" fill="#dfebec"/><rect x="68.25" y="95.50" width="2.5" height="2.5" fill="#eefbfb"/><rect x="71.25" y="34.50" width="2.5" height="2.5" fill="#dfebec"/><rect x="24.25" y="106.00" width="2.5" height="2.5" fill="#fde8f9"/><rect x="30.25" y="31.25" width="2.5" height="2.5" fill="#dfebec"/><rect x="116.00" y="122.25" width="2.5" height="2.5" fill="#dfebec"/><rect x="105.50" y="56.25" width="2.5" height="2.5" fill="#fffdee"/><rect x="16.25" y="107.25" width="2.5" height="2.5" fill="#dfebec"/><rect x="112.50" y="68.25" width="2.5" height="2.5" fill="#dfebec"/><rect x="62.00" y="105.25" width="2.5" height="2.5" fill="#dfebec"/><rect x="64.25" y="107.25" width="2.5" height="2.5" fill="#eefbfb"/><rect x="26.50" y="26.50" width="2.5" height="2.5" fill="#dfebec"/><rect x="116.00" y="22.25" width="2.5" height="2.5" fill="#dfebec"/><rect x="95.00" y="88.00" width="2.5" height="2.5" fill="#fffdee"/><rect x="39.25" y="18.25" width="2.5" height="2.5" fill="#dfebec"/><rect x="118.50" y="80.25" width="2.5" height="2.5" fill="#fffdee"/><rect x="15.00" y="5.25" width="2.5" height="2.5" fill="#eefbfb"/><rect x="58.50" y="28.00" width="2.5" height="2.5" fill="#dfebec"/><rect x="118.50" y="102.50" width="2.5" height="2.5" fill="#dfebec"/><rect x="132.50" y="53.25" width="2.5" height="2.5" fill="#eefbfb"/><rect x="36.50" y="101.00" width="2.5" height="2.5" fill="#dfebec"/><rect x="0.00" y="64.50" width="2.5" height="2.5" fill="#fde8f9"/><rect x="30.25" y="119.00" width="2.5" height="2.5" fill="#dfebec"/><rect x="94.25" y="6.00" width="2.5" height="2.5" fill="#eefbfb"/><rect x="105.50" y="28.00" width="2.5" height="2.5" fill="#dfebec"/><rect x="129.50" y="31.00" width="2.5" height="2.5" fill="#f0fde6"/><rect x="60.00" y="22.50" width="2.5" height="2.5" fill="#fde8f9"/><rect x="78.25" y="90.00" width="2.5" height="2.5" fill="#dfebec"/><rect x="105.25" y="13.00" width="2.5" height="2.5" fill="#f0fde6"/><rect x="115.00" y="26.25" width="2.5" height="2.5" fill="#dfebec"/><rect x="26.50" y="39.00" width="2.5" height="2.5" fill="#f0fde6"/><rect x="134.00" y="104.50" width="2.5" height="2.5" fill="#f0fde6"/><rect x="30.25" y="2.00" width="2.5" height="2.5" fill="#dfebec"/><rect x="28.50" y="96.00" width="2.5" height="2.5" fill="#dfebec"/><rect x="135.50" y="7.25" width="2.5" height="2.5" fill="#dfebec"/><rect x="126.25" y="11.25" width="2.5" height="2.5" fill="#eefbfb"/><rect x="76.00" y="54.25" width="2.5" height="2.5" fill="#f0fde6"/><rect x="28.50" y="107.25" width="2.5" height="2.5" fill="#fde8f9"/><rect x="52.50" y="35.50" width="2.5" height="2.5" fill="#fde8f9"/><rect x="24.25" y="76.25" width="2.5" height="2.5" fill="#f0fde6"/><rect x="66.00" y="94.00" width="2.5" height="2.5" fill="#eefbfb"/><rect x="122.25" y="91.50" width="2.5" height="2.5" fill="#eefbfb"/><rect x="85.25" y="29.00" width="2.5" height="2.5" fill="#dfebec"/><rect x="135.00" y="41.50" width="2.5" height="2.5" fill="#eefbfb"/><rect x="140.25" y="102.00" width="2.5" height="2.5" fill="#dfebec"/><rect x="95.00" y="80.25" width="2.5" height="2.5" fill="#fde8f9"/><rect x="58.50" y="124.50" width="2.5" height="2.5" fill="#dfebec"/><rect x="95.25" y="26.00" width="2.5" height="2.5" fill="#f0fde6"/><rect x="91.00" y="93.50" width="2.5" height="2.5" fill="#eefbfb"/><rect x="77.00" y="14.25" width="2.5" height="2.5" fill="#dfebec"/><rect x="127.00" y="88.00" width="2.5" height="2.5" fill="#dfebec"/><rect x="54.25" y="69.25" width="2.5" height="2.5" fill="#fffdee"/><rect x="95.25" y="22.25" width="2.5" height="2.5" fill="#f0fde6"/><rect x="24.00" y="101.00" width="2.5" height="2.5" fill="#dfebec"/><rect x="84.00" y="81.00" width="2.5" height="2.5" fill="#dfebec"/><rect x="73.50" y="72.00" width="2.5" height="2.5" fill="#fde8f9"/><rect x="12.25" y="21.50" width="2.5" height="2.5" fill="#dfebec"/><rect x="87.50" y="5.50" width="2.5" height="2.5" fill="#dfebec"/><rect x="139.00" y="122.25" width="2.5" height="2.5" fill="#eefbfb"/><rect x="19.00" y="21.25" width="2.5" height="2.5" fill="#dfebec"/><rect x="96.25" y="111.00" width="2.5" height="2.5" fill="#fde8f9"/><rect x="81.50" y="18.00" width="2.5" height="2.5" fill="#eefbfb"/><rect x="140.50" y="28.50" width="2.5" height="2.5" fill="#dfebec"/><rect x="101.25" y="29.00" width="2.5" height="2.5" fill="#dfebec"/><rect x="106.25" y="35.00" width="2.5" height="2.5" fill="#dfebec"/><rect x="70.25" y="104.00" width="2.5" height="2.5" fill="#eefbfb"/><rect x="96.00" y="126.25" width="2.5" height="2.5" fill="#eefbfb"/><rect x="99.50" y="123.00" width="2.5" height="2.5" fill="#f0fde6"/><rect x="42.50" y="82.00" width="2.5" height="2.5" fill="#dfebec"/><rect x="88.00" y="89.25" width="2.5" height="2.5" fill="#f0fde6"/><rect x="133.50" y="99.25" width="2.5" height="2.5" fill="#f0fde6"/><rect x="118.25" y="37.25" width="2.5" height="2.5" fill="#eefbfb"/><rect x="83.00" y="125.00" width="2.5" height="2.5" fill="#fffdee"/><rect x="66.25" y="105.50" width="2.5" height="2.5" fill="#dfebec"/><rect x="65.00" y="65.25" width="2.5" height="2.5" fill="#dfebec"/><rect x="54.25" y="16.50" width="2.5" height="2.5" fill="#dfebec"/><rect x="105.50" y="116.25" width="2.5" height="2.5" fill="#fde8f9"/><rect x="30.00" y="47.50" width="2.5" height="2.5" fill="#dfebec"/><rect x="78.50" y="38.00" width="2.5" height="2.5" fill="#eefbfb"/><rect x="145.00" y="125.25" width="2.5" height="2.5" fill="#fde8f9"/><rect x="38.25" y="91.25" width="2.5" height="2.5" fill="#dfebec"/><rect x="63.00" y="55.00" width="2.5" height="2.5" fill="#f0fde6"/><rect x="88.00" y="41.00" width="2.5" height="2.5" fill="#f0fde6"/><rect x="43.25" y="83.25" width="2.5" height="2.5" fill="#dfebec"/><rect x="74.50" y="67.00" width="2.5" height="2.5" fill="#dfebec"/><rect x="91.00" y="44.50" width="2.5" height="2.5" fill="#dfebec"/><rect x="75.25" y="64.50" width="2.5" height="2.5" fill="#dfebec"/><rect x="67.25" y="19.25" width="2.5" height="2.5" fill="#dfebec"/><rect x="72.25" y="38.25" width="2.5" height="2.5" fill="#dfebec"/><rect x="139.00" y="22.50" width="2.5" height="2.5" fill="#dfebec"/><rect x="136.50" y="66.25" width="2.5" height="2.5" fill="#dfebec"/><rect x="109.25" y="59.25" width="2.5" height="2.5" fill="#fde8f9"/><rect x="94.25" y="55.50" width="2.5" height="2.5" fill="#fde8f9"/><rect x="69.50" y="89.00" width="2.5" height="2.5" fill="#dfebec"/><rect x="140.00" y="18.25" width="2.5" height="2.5" fill="#dfebec"/><rect x="26.50" y="30.00" width="2.5" height="2.5" fill="#eefbfb"/><rect x="79.25" y="36.00" width="2.5" height="2.5" fill="#dfebec"/><rect x="36.00" y="105.50" width="2.5" height="2.5" fill="#dfebec"/><rect x="133.50" y="19.25" width="2.5" height="2.5" fill="#fde8f9"/><rect x="47.00" y="90.50" width="2.5" height="2.5" fill="#fde8f9"/><rect x="50.50" y="26.25" width="2.5" height="2.5" fill="#dfebec"/><rect x="124.00" y="20.50" width="2.5" height="2.5" fill="#fde8f9"/><rect x="7.50" y="22.00" width="2.5" height="2.5" fill="#dfebec"/><rect x="65.25" y="56.50" width="2.5" height="2.5" fill="#dfebec"/><rect x="38.50" y="39.25" width="2.5" height="2.5" fill="#dfebec"/><rect x="125.50" y="80.00" width="2.5" height="2.5" fill="#dfebec"/><rect x="132.00" y="8.00" width="2.5" height="2.5" fill="#dfebec"/><rect x="76.25" y="6.25" width="2.5" height="2.5" fill="#dfebec"/><rect x="38.00" y="21.00" width="2.5" height="2.5" fill="#eefbfb"/><rect x="17.00" y="101.00" width="2.5" height="2.5" fill="#eefbfb"/><rect x="89.25" y="56.25" width="2.5" height="2.5" fill="#eefbfb"/><rect x="3.00" y="67.00" width="2.5" height="2.5" fill="#f0fde6"/><rect x="94.50" y="85.50" width="2.5" height="2.5" fill="#eefbfb"/><rect x="116.50" y="60.25" width="2.5" height="2.5" fill="#dfebec"/><rect x="51.00" y="54.25" width="2.5" height="2.5" fill="#fde8f9"/><rect x="122.00" y="85.00" width="2.5" height="2.5" fill="#dfebec"/><rect x="66.50" y="65.50" width="2.5" height="2.5" fill="#dfebec"/><rect x="47.25" y="59.00" width="2.5" height="2.5" fill="#dfebec"/><rect x="130.25" y="52.50" width="2.5" height="2.5" fill="#dfebec"/><rect x="63.50" y="23.00" width="2.5" height="2.5" fill="#fde8f9"/><rect x="62.25" y="55.00" width="2.5" height="2.5" fill="#eefbfb"/><rect x="142.00" y="94.50" width="2.5" height="2.5" fill="#eefbfb"/><rect x="17.00" y="99.00" width="2.5" height="2.5" fill="#eefbfb"/><rect x="59.25" y="52.25" width="2.5" height="2.5" fill="#dfebec"/><rect x="143.50" y="17.25" width="2.5" height="2.5" fill="#dfebec"/><rect x="13.25" y="8.25" width="2.5" height="2.5" fill="#dfebec"/><rect x="108.00" y="36.00" width="2.5" height="2.5" fill="#dfebec"/><rect x="40.25" y="57.25" width="2.5" height="2.5" fill="#eefbfb"/><rect x="35.00" y="36.50" width="2.5" height="2.5" fill="#eefbfb"/><rect x="10.00" y="60.00" width="2.5" height="2.5" fill="#dfebec"/><rect x="116.25" y="95.50" width="2.5" height="2.5" fill="#dfebec"/><rect x="69.00" y="18.00" width="2.5" height="2.5" fill="#eefbfb"/><rect x="12.00" y="78.25" width="2.5" height="2.5" fill="#dfebec"/><rect x="31.25" y="113.50" width="2.5" height="2.5" fill="#dfebec"/><rect x="23.00" y="57.00" width="2.5" height="2.5" fill="#dfebec"/><rect x="79.50" y="128.00" width="2.5" height="2.5" fill="#dfebec"/><rect x="84.50" y="26.25" width="2.5" height="2.5" fill="#fde8f9"/><rect x="117.25" y="125.25" width="2.5" height="2.5" fill="#dfebec"/><rect x="48.00" y="120.50" width="2.5" height="2.5" fill="#dfebec"/><rect x="112.50" y="102.50" width="2.5" height="2.5" fill="#dfebec"/></pattern>
<filter id="soft" x="-2%" y="-2%" width="104%" height="104%"><feGaussianBlur stdDeviation="0.9"/></filter></defs>
<rect x="0" y="0" width="2012" height="1524" fill="url(#speckle)"/>
<g filter="url(#soft)">
<g stroke="#000" stroke-width="8.5" fill="none" stroke-linecap="butt">
<line x1="287.8" y1="54.8" x2="287.8" y2="1291.0" stroke-width="9.4"/>
<line x1="1957.2" y1="54.8" x2="1957.2" y2="1291.0" stroke-width="9.4"/>
<line x1="283.1" y1="58.8" x2="1961.9" y2="58.8" stroke-width="8.0"/>
<line x1="283.1" y1="1287.0" x2="1961.9" y2="1287.0" stroke-width="8.0"/>
<line x1="288.0" y1="1287.0" x2="288.0" y2="1315.5"/>
<line x1="371.5" y1="1287.0" x2="371.5" y2="1303.5"/>
<line x1="454.9" y1="1287.0" x2="454.9" y2="1315.5"/>
<line x1="538.4" y1="1287.0" x2="538.4" y2="1303.5"/>
<line x1="621.8" y1="1287.0" x2="621.8" y2="1315.5"/>
<line x1="705.3" y1="1287.0" x2="705.3" y2="1303.5"/>
<line x1="788.8" y1="1287.0" x2="788.8" y2="1315.5"/>
<line x1="872.2" y1="1287.0" x2="872.2" y2="1303.5"/>
<line x1="955.7" y1="1287.0" x2="955.7" y2="1315.5"/>
<line x1="1039.1" y1="1287.0" x2="1039.1" y2="1303.5"/>
<line x1="1122.6" y1="1287.0" x2="1122.6" y2="1315.5"/>
<line x1="1206.1" y1="1287.0" x2="1206.1" y2="1303.5"/>
<line x1="1289.5" y1="1287.0" x2="1289.5" y2="1315.5"/>
<line x1="1373.0" y1="1287.0" x2="1373.0" y2="1303.5"/>
<line x1="1456.4" y1="1287.0" x2="1456.4" y2="1315.5"/>
<line x1="1539.9" y1="1287.0" x2="1539.9" y2="1303.5"/>
<line x1="1623.4" y1="1287.0" x2="1623.4" y2="1315.5"/>
<line x1="1706.8" y1="1287.0" x2="1706.8" y2="1303.5"/>
<line x1="1790.3" y1="1287.0" x2="1790.3" y2="1315.5"/>
<line x1="1873.7" y1="1287.0" x2="1873.7" y2="1303.5"/>
<line x1="1957.2" y1="1287.0" x2="1957.2" y2="1315.5"/>
<line x1="287.8" y1="1287.0" x2="258.0" y2="1287.0"/>
<line x1="287.8" y1="1199.3" x2="271.0" y2="1199.3"/>
<line x1="287.8" y1="1111.5" x2="258.0" y2="1111.5"/>
<line x1="287.8" y1="1023.8" x2="271.0" y2="1023.8"/>
<line x1="287.8" y1="936.0" x2="258.0" y2="936.0"/>
<line x1="287.8" y1="848.3" x2="271.0" y2="848.3"/>
<line x1="287.8" y1="760.5" x2="258.0" y2="760.5"/>
<line x1="287.8" y1="672.8" x2="271.0" y2="672.8"/>
<line x1="287.8" y1="585.1" x2="258.0" y2="585.1"/>
<line x1="287.8" y1="497.3" x2="271.0" y2="497.3"/>
<line x1="287.8" y1="409.6" x2="258.0" y2="409.6"/>
<line x1="287.8" y1="321.8" x2="271.0" y2="321.8"/>
<line x1="287.8" y1="234.1" x2="258.0" y2="234.1"/>
<line x1="287.8" y1="146.3" x2="271.0" y2="146.3"/>
<line x1="287.8" y1="58.6" x2="258.0" y2="58.6"/>
</g>
<defs><clipPath id="plotclip"><rect x="287.8" y="58.8" width="1669.4" height="1228.2"/></clipPath></defs>
<g clip-path="url(#plotclip)" fill="none" stroke-linejoin="round" stroke-linecap="round" stroke-width="8.2">
<polyline stroke="#000000" points="288.0,1287.0 341.5,1148.0 352.9,1110.0 364.7,1070.0 376.3,1030.0 388.0,990.0 399.6,950.0 411.5,910.0 423.5,870.0 435.9,830.0 448.6,790.0 461.8,750.0 475.6,710.0 490.0,670.0 505.2,630.0 521.1,590.0 537.8,550.0 555.5,510.0 574.1,470.0 593.8,430.0 614.6,390.0 617.5,383.0 685.1,292.6 753.7,252.9 818.3,254.9 952.4,319.0 958.5,440.0 966.2,626.4"/>
<polyline stroke="#ff0000" points="288.0,1287.0 342.0,1152.0 354.0,1110.0 366.0,1070.0 378.4,1030.0 391.3,990.0 404.6,950.0 418.3,910.0 432.4,870.0 447.0,830.0 462.0,790.0 477.7,750.0 494.1,710.0 511.3,670.0 529.5,630.0 549.0,590.0 569.8,550.0 592.3,510.0 616.8,470.0 643.4,430.0 672.5,390.0 691.1,367.2 754.7,301.6 818.3,266.8 882.0,261.8 951.0,279.3 1020.0,309.5 1027.9,470.0 1039.9,650.0"/>
<polyline stroke="#0000ff" points="288.0,1287.0 342.1,1158.0 355.6,1110.0 368.1,1070.0 381.4,1030.0 395.4,990.0 410.0,950.0 425.0,910.0 440.4,870.0 456.2,830.0 472.5,790.0 489.2,750.0 506.5,710.0 524.5,670.0 543.4,630.0 563.5,590.0 585.0,550.0 608.2,510.0 633.4,470.0 661.0,430.0 691.5,390.0 705.0,375.1 774.6,319.5 846.2,297.6 925.0,318.0 986.6,350.9 1001.7,470.0 1028.1,665.8"/>
<polyline stroke="#008080" points="288.0,1287.0 343.0,1169.0 368.0,1093.5 393.0,1020.9 418.0,953.7 443.0,891.4 468.0,833.4 530.0,700.0 562.7,645.4 602.1,578.4 617.8,548.9 637.5,515.4 663.1,480.0 705.0,420.9 776.6,361.2 850.1,325.4 911.8,312.7 1047.0,312.7 1085.2,320.7 1110.0,476.8"/>
<polyline stroke="#ff00ff" points="288.0,1287.0 342.0,1169.0 367.0,1093.5 392.0,1020.9 417.0,953.7 442.0,891.4 467.0,833.4 492.0,779.5 517.0,729.7 542.0,684.1 567.0,642.5 592.0,605.3 617.0,572.5 642.0,544.2 667.0,520.5 728.9,480.5 798.4,465.6 850.1,467.6 1110.0,521.4 1125.8,533.2 1163.9,803.6"/>
</g>
<g class="tick" text-anchor="middle">
<text transform="translate(288.0,1380.3) scale(1,1.035)">0</text>
<text transform="translate(454.9,1380.3) scale(1,1.035)">2</text>
<text transform="translate(621.8,1380.3) scale(1,1.035)">4</text>
<text transform="translate(788.8,1380.3) scale(1,1.035)">6</text>
<text transform="translate(955.7,1380.3) scale(1,1.035)">8</text>
<text transform="translate(1122.6,1380.3) scale(1,1.035)">10</text>
<text transform="translate(1289.5,1380.3) scale(1,1.035)">12</text>
<text transform="translate(1456.4,1380.3) scale(1,1.035)">14</text>
<text transform="translate(1623.4,1380.3) scale(1,1.035)">16</text>
<text transform="translate(1790.3,1380.3) scale(1,1.035)">18</text>
<text transform="translate(1957.2,1380.3) scale(1,1.035)">20</text>
</g>
<g class="tick" text-anchor="end">
<text transform="translate(244.5,1304.8) scale(1,1.035)">0</text>
<text transform="translate(244.5,1129.3) scale(1,1.035)">4</text>
<text transform="translate(244.5,953.8) scale(1,1.035)">8</text>
<text transform="translate(244.5,778.3) scale(1,1.035)">12</text>
<text transform="translate(244.5,602.9) scale(1,1.035)">16</text>
<text transform="translate(244.5,427.4) scale(1,1.035)">20</text>
<text transform="translate(244.5,251.9) scale(1,1.035)">24</text>
<text transform="translate(244.5,76.4) scale(1,1.035)">28</text>
</g>
<text class="lab" text-anchor="middle" transform="translate(1122,1492.8) scale(0.978,1.03)">Strain (%)</text>
<text class="lab" text-anchor="middle" transform="translate(78.7,676.4) rotate(-90) scale(1.014,1.05)">Stress (MPa)</text>
<g class="leg">
<line x1="1285" y1="157.7" x2="1420" y2="157.7" stroke="#000000" stroke-width="10" stroke-linecap="round"/>
<text x="1437.5" y="178.0">original PB-1</text>
<line x1="1285" y1="233.5" x2="1420" y2="233.5" stroke="#ff0000" stroke-width="10" stroke-linecap="round"/>
<text x="1437.5" y="253.8">1st reprocessed</text>
<line x1="1285" y1="309.3" x2="1420" y2="309.3" stroke="#0000ff" stroke-width="10" stroke-linecap="round"/>
<text x="1437.5" y="329.6">2nd reprocessed</text>
<line x1="1285" y1="385.1" x2="1420" y2="385.1" stroke="#008080" stroke-width="10" stroke-linecap="round"/>
<text x="1437.5" y="405.4">3rd reprocessed</text>
<line x1="1285" y1="460.9" x2="1420" y2="460.9" stroke="#ff00ff" stroke-width="10" stroke-linecap="round"/>
<text x="1437.5" y="481.2">4th reprocessed</text>
</g>
</g>
</svg>
</body>
</html>
